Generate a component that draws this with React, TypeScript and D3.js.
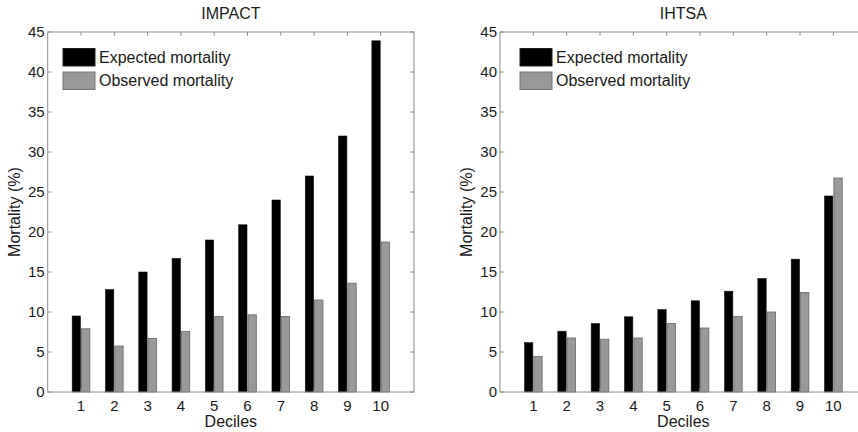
import React, { useEffect, useRef } from "react";
import * as d3 from "d3";

const deciles = ["1", "2", "3", "4", "5", "6", "7", "8", "9", "10"];
const impactExpected = [9.5, 12.8, 15.0, 16.7, 19.0, 20.9, 24.0, 27.0, 32.0, 43.9];
const impactObserved = [7.9, 5.75, 6.7, 7.55, 9.45, 9.65, 9.45, 11.5, 13.6, 18.75];
const ihtsaExpected = [6.17, 7.6, 8.55, 9.4, 10.3, 11.4, 12.6, 14.2, 16.6, 24.5];
const ihtsaObserved = [4.45, 6.75, 6.6, 6.75, 8.55, 8.0, 9.45, 10.0, 12.45, 26.75];
const yTicks = [0, 5, 10, 15, 20, 25, 30, 35, 40, 45];
const seriesNames = ["Expected mortality", "Observed mortality"];
const panelTitles = ["IMPACT", "IHTSA"];

const W = 858;
const H = 432;
const FONT = "'Liberation Sans', Arial, Helvetica, sans-serif";

export default function App() {
  const ref = useRef<SVGSVGElement>(null);

  useEffect(() => {
    const svg = d3.select(ref.current);
    svg.selectAll("*").remove();

    const panels = [
      { title: panelTitles[0], exp: impactExpected, obs: impactObserved, x0: 47.7, x1: 414, ylabX: 15, legX: 63 },
      { title: panelTitles[1], exp: ihtsaExpected, obs: ihtsaObserved, x0: 500, x1: 866.7, ylabX: 467, legX: 520 },
    ];
    const top = 32;
    const bottom = 392;

    panels.forEach((p) => {
      const g = svg.append("g");
      const x = d3.scaleLinear().domain([0, 11]).range([p.x0, p.x1]);
      const y = d3.scaleLinear().domain([0, 45]).range([bottom, top]);
      const axisColor = "#8c8c8c";
      const bw = 0.25;

      p.exp.forEach((v, i) => {
        const c = i + 1;
        g.append("rect")
          .attr("x", x(c - 0.015 - bw))
          .attr("y", y(v))
          .attr("width", x(bw) - x(0))
          .attr("height", y(0) - y(v))
          .attr("fill", "#000")
          .attr("stroke", "#111")
          .attr("stroke-width", 0.6);
      });
      p.obs.forEach((v, i) => {
        const c = i + 1;
        g.append("rect")
          .attr("x", x(c + 0.015))
          .attr("y", y(v))
          .attr("width", x(bw) - x(0))
          .attr("height", y(0) - y(v))
          .attr("fill", "#999")
          .attr("stroke", "#666")
          .attr("stroke-width", 0.8);
      });

      g.append("rect")
        .attr("x", p.x0)
        .attr("y", top)
        .attr("width", p.x1 - p.x0)
        .attr("height", bottom - top)
        .attr("fill", "none")
        .attr("stroke", axisColor)
        .attr("stroke-width", 1);

      const tl = 3.7;
      yTicks.forEach((t) => {
        const yy = y(t);
        g.append("line").attr("x1", p.x0).attr("x2", p.x0 + tl).attr("y1", yy).attr("y2", yy).attr("stroke", axisColor);
        g.append("line").attr("x1", p.x1).attr("x2", p.x1 - tl).attr("y1", yy).attr("y2", yy).attr("stroke", axisColor);
        g.append("text")
          .attr("x", p.x0 - 3)
          .attr("y", yy + 5.3)
          .attr("text-anchor", "end")
          .attr("font-family", FONT)
          .attr("font-size", 15)
          .attr("fill", "#1a1a1a")
          .text(String(t));
      });
      deciles.forEach((d, i) => {
        const xx = x(i + 1);
        g.append("line").attr("x1", xx).attr("x2", xx).attr("y1", bottom).attr("y2", bottom - tl).attr("stroke", axisColor);
        g.append("line").attr("x1", xx).attr("x2", xx).attr("y1", top).attr("y2", top + tl).attr("stroke", axisColor);
        g.append("text")
          .attr("x", xx)
          .attr("y", 411)
          .attr("text-anchor", "middle")
          .attr("font-family", FONT)
          .attr("font-size", 15)
          .attr("fill", "#1a1a1a")
          .text(d);
      });

      g.append("text")
        .attr("x", (p.x0 + p.x1) / 2)
        .attr("y", 19)
        .attr("text-anchor", "middle")
        .attr("font-family", FONT)
        .attr("font-size", 16)
        .attr("fill", "#1a1a1a")
        .text(p.title);

      g.append("text")
        .attr("x", (p.x0 + p.x1) / 2)
        .attr("y", 427)
        .attr("text-anchor", "middle")
        .attr("font-family", FONT)
        .attr("font-size", 16)
        .attr("fill", "#1a1a1a")
        .text("Deciles");

      g.append("text")
        .attr("transform", `translate(${p.ylabX + 5},${(top + bottom) / 2}) rotate(-90)`)
        .attr("text-anchor", "middle")
        .attr("font-family", FONT)
        .attr("font-size", 16)
        .attr("fill", "#1a1a1a")
        .text("Mortality (%)");

      const fills = ["#000", "#999"];
      const strokes = ["#222", "#777"];
      seriesNames.forEach((n, k) => {
        const ly = 48.5 + k * 23.5;
        g.append("rect")
          .attr("x", p.legX)
          .attr("y", ly)
          .attr("width", 32)
          .attr("height", 17.5)
          .attr("fill", fills[k])
          .attr("stroke", strokes[k])
          .attr("stroke-width", 1);
        g.append("text")
          .attr("x", p.legX + 36)
          .attr("y", ly + 14)
          .attr("font-family", FONT)
          .attr("font-size", 16)
          .attr("fill", "#1a1a1a")
          .text(n);
      });
    });
  }, []);

  return (
    <svg
      ref={ref}
      width={W}
      height={H}
      style={{ position: "absolute", left: 0, top: 0, background: "#fff" }}
    />
  );
}
